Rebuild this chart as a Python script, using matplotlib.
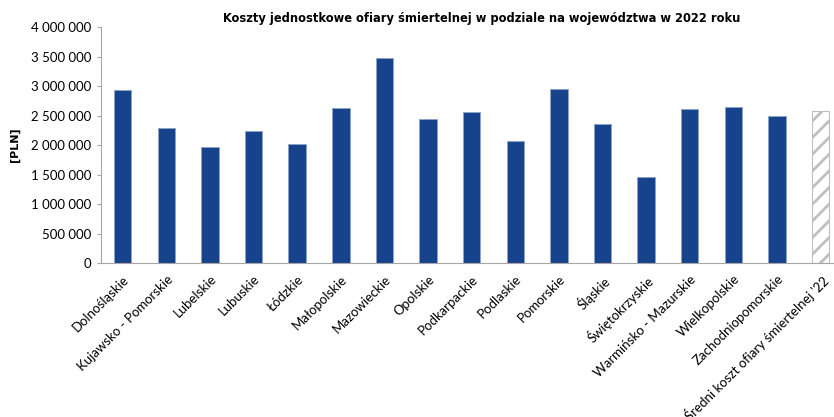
import matplotlib.pyplot as plt
from matplotlib.ticker import FuncFormatter

plt.rcParams['font.family'] = ['DejaVu Sans']
plt.rcParams['hatch.color'] = '#a6a6a6'
plt.rcParams['hatch.linewidth'] = 2.0

regions = ["Dolnośląskie", "Kujawsko - Pomorskie", "Lubelskie", "Lubuskie", "Łódzkie",
           "Małopolskie", "Mazowieckie", "Opolskie", "Podkarpackie", "Podlaskie",
           "Pomorskie", "Śląskie", "Świętokrzyskie", "Warmińsko - Mazurskie",
           "Wielkopolskie", "Zachodniopomorskie"]
costs = [2932000, 2288000, 1966000, 2232000, 2017000,
         2627000, 3480000, 2440000, 2560000, 2063000,
         2954000, 2350000, 1458000, 2610000,
         2640000, 2497000]
avg_label = "Średni koszt ofiary śmiertelnej '22"
avg_cost = 2576000

fig = plt.figure(figsize=(8.34, 4.17), dpi=100)
ax = fig.add_axes([0.121, 0.369, 0.889, 0.566])

x = range(len(regions))
ax.bar(x, costs, width=0.4, color='#17428c', edgecolor='#8da3c8', linewidth=0.6)
# hatched bar for the national average
ax.bar(len(regions), avg_cost, width=0.4, color='white', edgecolor='#bfbfbf',
       linewidth=0.8, hatch='//')

ax.set_xlim(-0.5, len(regions) + 0.5)
ax.set_ylim(0, 4000000)
ax.set_yticks(range(0, 4000001, 500000))
ax.yaxis.set_major_formatter(FuncFormatter(lambda v, p: f"{int(v):,}".replace(",", " ")))
ax.tick_params(axis='y', length=3, color='#a6a6a6', pad=4)
for lbl in ax.get_yticklabels():
    lbl.set_fontfamily('Lato')
    lbl.set_fontsize(9.5)

ax.set_xticks(list(range(len(regions) + 1)))
ax.set_xticklabels(regions + [avg_label], rotation=45, ha='right', rotation_mode='anchor',
                   fontsize=9.5, fontfamily='Lato')
ax.tick_params(axis='x', length=0, pad=7)

for side in ['top', 'right']:
    ax.spines[side].set_visible(False)
for side in ['left', 'bottom']:
    ax.spines[side].set_color('#a6a6a6')

ax.set_ylabel("[PLN]", fontsize=8, fontweight='bold', labelpad=8)
fig.text(0.577, 0.955, "Koszty jednostkowe ofiary śmiertelnej w podziale na województwa w 2022 roku",
         ha='center', va='center', fontsize=8.3, fontweight='bold')

fig.savefig("out.png", dpi=100)
